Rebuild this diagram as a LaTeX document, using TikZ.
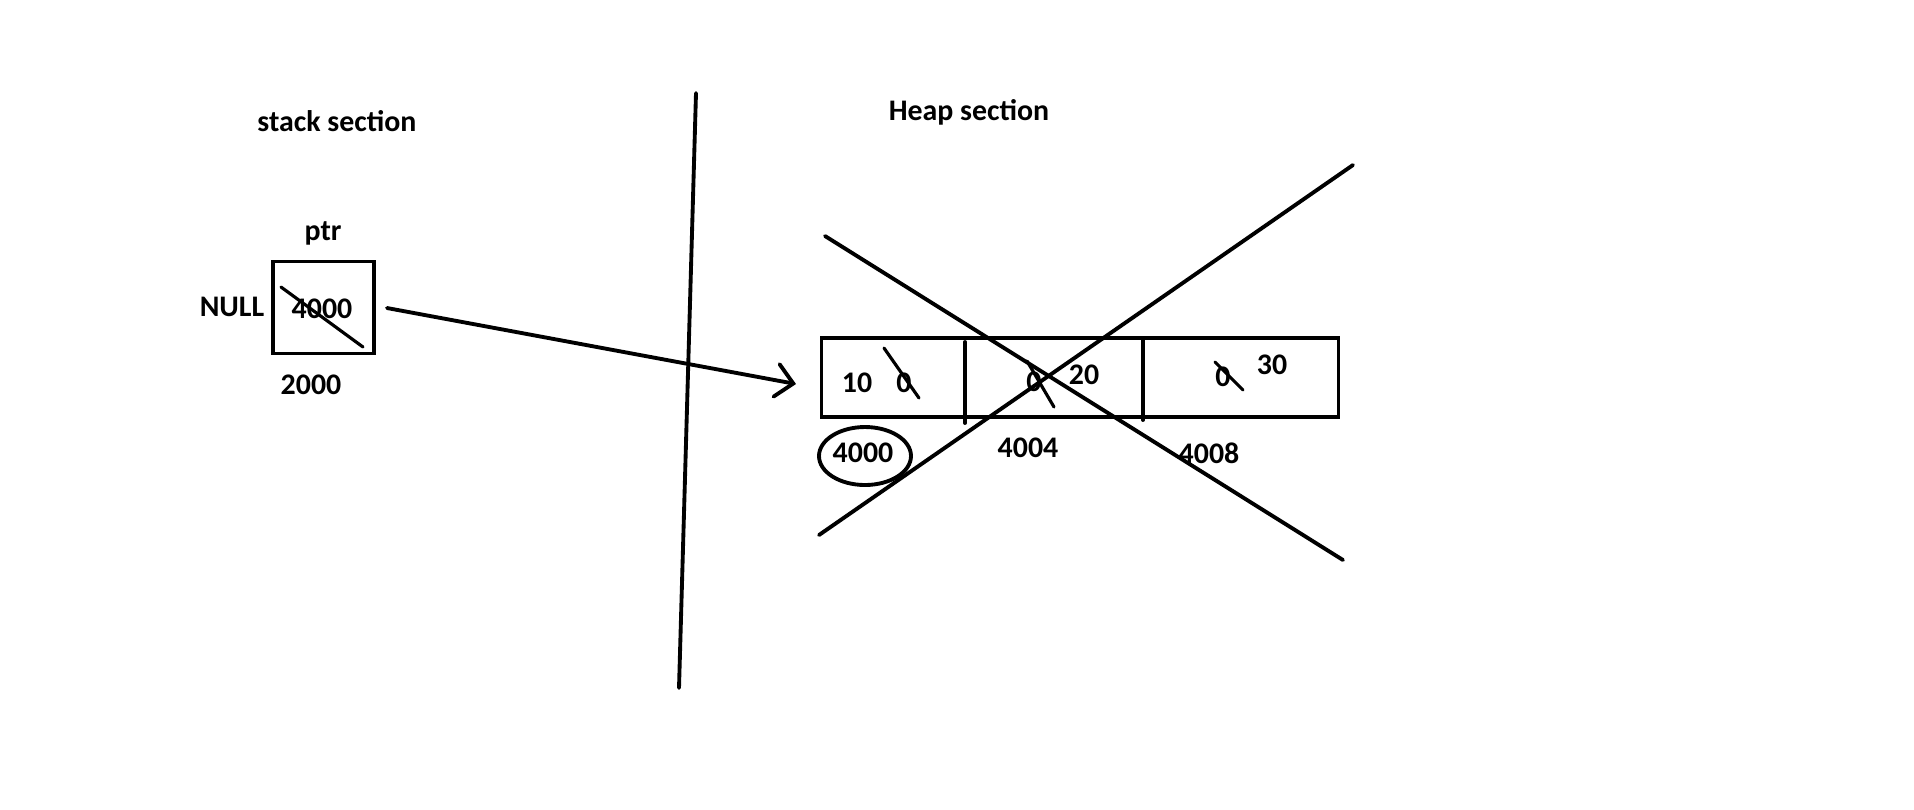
\documentclass[tikz,border=0pt]{standalone}
\usepackage{fontspec}
\setmainfont{Carlito}
\usetikzlibrary{arrows.meta}

\tikzset{
  lbl/.style={font=\fontsize{8.5}{10}\selectfont\bfseries, inner sep=0pt},
  trazo/.style={line width=1.1pt, line cap=round},
  tacha/.style={line width=0.9pt, line cap=round}
}

\begin{document}
\begin{tikzpicture}[x=0.1mm, y=-0.1mm]

    \useasboundingbox (0,0) rectangle (1914,809);

    % Titles
    \node[lbl] (stacktit) at (337,121) {stack section};
    \node[lbl] (heaptit) at (969,112) {Heap section};

    % Divider between stack and heap
    \draw[trazo] (696,93) -- (679,688);

    % Pointer variable
    \node[lbl] (ptrname) at (323,233) {ptr};
    \node[draw, line width=1.1pt, minimum width=10.1mm, minimum height=9.2mm] (ptrbox) at (323.5,307.5) {};
    \node[lbl] (ptrval) at (322,309) {4000};
    \node[lbl] (null) at (232,307) {NULL};
    \node[lbl] (ptraddr) at (311,385) {2000};
    \draw[tacha] (281,287) -- (363,347);

    % Array in the heap
    \node[draw, line width=1.1pt, minimum width=51.7mm, minimum height=7.9mm] (arr) at (1080,377.5) {};
    \draw[trazo] (965,342) -- (965,423);
    \draw[trazo] (1143,340) -- (1143,420);

    \node[lbl] (v10) at (857,383) {10};
    \node[lbl] (z1) at (904,383) {0};
    \node[lbl] (z2) at (1034,382) {0};
    \node[lbl] (v20) at (1084,375) {20};
    \node[lbl] (z3) at (1223,377) {0};
    \node[lbl] (v30) at (1272,365) {30};
    \draw[tacha] (884,348) -- (919,398);
    \draw[tacha] (1027,361) -- (1054,407);
    \draw[tacha] (1215,362) -- (1243,390);

    % Addresses
    \node[lbl] (a0) at (863,453) {4000};
    \node[lbl] (a4) at (1028,448) {4004};
    \node[lbl] (a8) at (1209,453) {4008};
    \draw[line width=1.1pt] (865,456) ellipse (46 and 29);

    % Pointer arrow
    \coordinate (from) at (387,308);
    \coordinate (to) at (796,384);
    \draw[trazo, -{Straight Barb[length=1.7mm, width=3.3mm, line cap=round]}] (from) -- (to);

    % Crossed out
    \draw[trazo] (825,236) -- (1343,560);
    \draw[trazo] (819,535) -- (1353,165);

\end{tikzpicture}
\end{document}
